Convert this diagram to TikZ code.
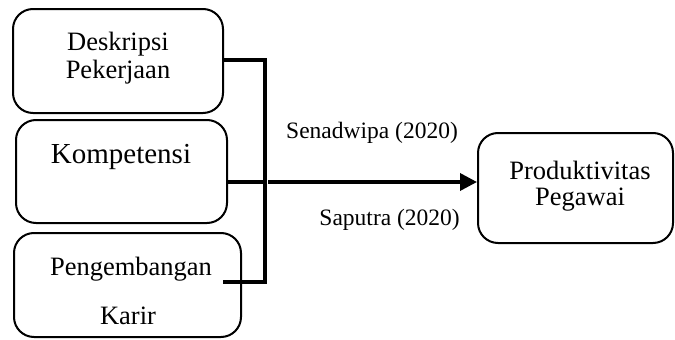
\documentclass[tikz,border=0pt]{standalone}
\usepackage{fontspec}
\setmainfont{Liberation Serif}
\usetikzlibrary{arrows.meta}
\begin{document}
\begin{tikzpicture}[x=1pt,y=-1pt,
  box/.style={draw,line width=2pt,rounded corners=20pt,inner sep=0pt},
  txt/.style={anchor=base,inner sep=0pt,font=\fontsize{26.5}{30}\selectfont},
  lbl/.style={anchor=base,inner sep=0pt,font=\fontsize{23.5}{28}\selectfont},
  conn/.style={line width=3.5pt}]
\useasboundingbox (0,0) rectangle (675,340);
\node[box,minimum width=210pt,minimum height=104pt] (b1) at (118,61) {};
\node[box,minimum width=211pt,minimum height=103pt] (b2) at (121.5,171.5) {};
\node[box,minimum width=227pt,minimum height=104pt] (b3) at (127.5,285) {};
\node[box,minimum width=195pt,minimum height=110pt] (b4) at (575.5,188) {};
\node[txt] (t1a) at (118,50) {Deskripsi};
\node[txt] (t1b) at (118,78) {Pekerjaan};
\node[txt,font=\fontsize{29}{34}\selectfont] (t2) at (121,163) {Kompetensi};
\node[txt] (t3a) at (131,275) {Pengembangan};
\node[txt] (t3b) at (128,324) {Karir};
\node[txt] (t4a) at (580,179) {Produktivitas};
\node[txt] (t4b) at (580,205) {Pegawai};
\node[lbl] (l1) at (372,138) {Senadwipa (2020)};
\node[lbl,anchor=base east] (l2) at (460,225) {Saputra (2020)};
\coordinate (v1) at (265,60);
\coordinate (v2) at (265,182);
\coordinate (v3) at (265,282);
\coordinate (s2) at (227,182);
\coordinate (s3) at (223,282);
\coordinate (a0) at (268,182);
\draw[conn] (b1.east |- v1) -- (v1) -- (v3) -- (s3);
\draw[conn] (s2) -- (v2);
\draw[conn,-{Triangle[length=17pt,width=17pt]}] (a0) -- (b4.west |- a0);
\end{tikzpicture}
\end{document}
